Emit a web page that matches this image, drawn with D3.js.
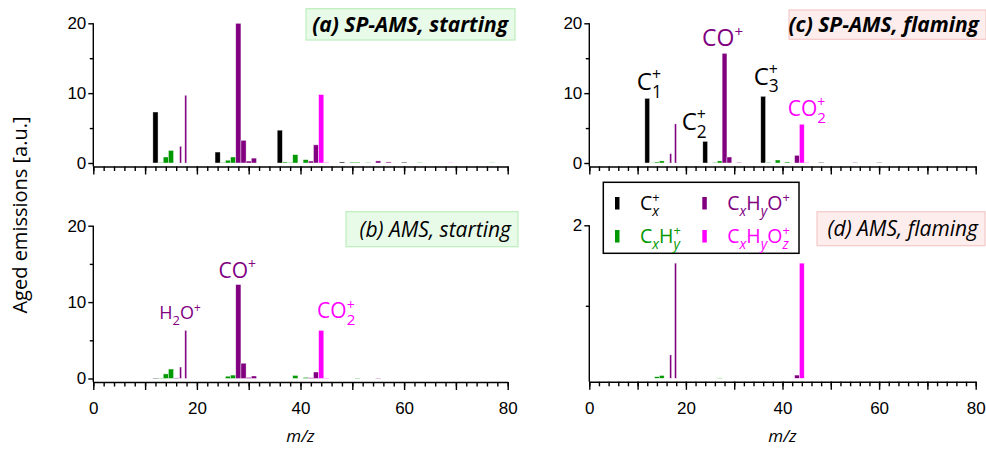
<!DOCTYPE html>
<html>
<head>
<meta charset="utf-8">
<script src="https://cdn.jsdelivr.net/npm/d3@7"></script>
<style>
  body { margin: 0; background: #fff; }
  svg { font-family: "Open Sans", "DejaVu Sans", sans-serif; }
  .axis path, .axis line { stroke: #000; stroke-width: 1.4; }
  .axis text { font-size: 17px; fill: #000; }
</style>
</head>
<body>
<script>
// m/z of every ion bar and the ion family it belongs to
var mz = [12, 13, 14, 15, 16, 17, 18, 24, 25, 26, 27, 28, 29, 30, 31, 36, 37, 38, 39, 41, 42, 43, 44, 45, 48, 50, 51, 53, 55, 57, 60, 63, 69, 77];
var family = ["Cx", "CxHy", "CxHy", "CxHy", "CxHyO", "CxHyO", "CxHyO", "Cx", "CxHy", "CxHy", "CxHy", "CxHyO", "CxHyO", "CxHyO", "CxHyO",
  "Cx", "CxHy", "CxHy", "CxHy", "CxHy", "CxHyO", "CxHyO", "CxHyOz", "CxHyOz", "Cx", "CxHy", "CxHy", "CxHy", "CxHyO", "CxHyO", "Cx", "CxHy", "CxHyOz", "CxHy"];
// water ions, drawn as thin lines
var waterMz = [17, 18];

// aged emissions per panel, same order as mz
var spStart = [7.3, 0.08, 0.86, 1.8, 0, 2.4, 9.7, 1.57, 0.08, 0.4, 0.86, 20.0, 3.25, 0.28, 0.7, 4.7, 0.15, 0.08, 1.2, 0.48, 0.28, 2.6, 9.8, 0.1, 0.15, 0.12, 0.12, 0.08, 0.3, 0.15, 0.12, 0.08, 0.05, 0.06];
var amsStart = [0.06, 0.05, 0.6, 1.24, 0.08, 1.5, 6.3, 0, 0, 0.3, 0.45, 12.3, 2.0, 0.15, 0.33, 0, 0, 0, 0.4, 0.15, 0.1, 0.85, 6.3, 0.05, 0, 0, 0.05, 0, 0.05, 0, 0, 0, 0, 0];
var spFlame = [9.26, 0.05, 0.15, 0.3, 0, 1.33, 5.6, 3.1, 0, 0.1, 0.3, 15.7, 0.86, 0, 0.1, 9.55, 0.1, 0, 0.43, 0.15, 0, 1.1, 5.55, 0.08, 0.1, 0, 0, 0, 0.08, 0, 0.08, 0, 0, 0];
var amsFlame = [0, 0, 0.12, 0.135, 0, 0.39, 1.53, 0, 0, 0, 0.105, 0, 0, 0, 0, 0, 0, 0, 0, 0, 0, 0.14, 1.53, 0, 0, 0, 0, 0, 0, 0, 0, 0, 0, 0];

var panelTitles = ["(a) SP-AMS, starting", "(b) AMS, starting", "(c) SP-AMS, flaming", "(d) AMS, flaming"];
var xTickLabels = [0, 20, 40, 60, 80];

// peak labels
var annoPanel = [1, 1, 1, 2, 2, 2, 2, 2];
var annoMz = [18, 28, 44, 12, 24, 28, 36, 44];
var annoText = ["H_{2}O^{+}", "CO^{+}", "CO_{2}^{+}", "C_{1}^{+}", "C_{2}^{+}", "CO^{+}", "C_{3}^{+}", "CO_{2}^{+}"];

var legendFamilies = ["Cx", "CxHy", "CxHyO", "CxHyOz"];
var legendText = ["C_{x}^{+}", "C_{x}H_{y}^{+}", "C_{x}H_{y}O^{+}", "C_{x}H_{y}O_{z}^{+}"];

var color = d3.scaleOrdinal()
  .domain(["Cx", "CxHy", "CxHyO", "CxHyOz"])
  .range(["#000000", "#009900", "#800080", "#ff00ff"]);

var svg = d3.select("body").append("svg").attr("width", 986).attr("height", 449);

var xRanges = [[93.3, 507.7], [589.3, 975.7]];
var panels = [
  { vals: spStart, col: 0, row: 0, yDom: [0, 20], yRange: [163, 23.3], major: [0, 10, 20], minor: [5, 15], box: [306, 8.7, 209, 31.3], bold: true, warm: false },
  { vals: amsStart, col: 0, row: 1, yDom: [0, 20], yRange: [378.5, 225.7], major: [0, 10, 20], minor: [5, 15], box: [346, 211.7, 172, 35], bold: false, warm: false },
  { vals: spFlame, col: 1, row: 0, yDom: [0, 20], yRange: [163, 23.3], major: [0, 10, 20], minor: [5, 15], box: [789, 10, 197, 29.3], bold: true, warm: true },
  { vals: amsFlame, col: 1, row: 1, yDom: [0.1, 2], yRange: [378.3, 225.3], major: [2], minor: [1], box: [817, 211.7, 168, 34], bold: false, warm: true }
];

// label nudges: [dx from bar centre, gap above bar top, font size]
var annoNudge = [[-6.5, 11, 18], [-1, 7, 21], [15, 12, 21], [2, 8, 24], [-11, 11, 24], [-2, 7, 23], [3, 11, 24], [5, 8, 21]];

function parseRich(s) {
  var out = [], re = /([_^])\{([^}]*)\}|([^_^]+)/g, m;
  while ((m = re.exec(s))) {
    if (m[3]) out.push({ t: m[3], k: "n" });
    else out.push({ t: m[2], k: m[1] === "_" ? "sub" : "sup" });
  }
  return out;
}

function richText(g, s, x, y, size, fill, anchor) {
  var t = g.append("text").attr("x", x).attr("y", y).attr("font-size", size).attr("fill", fill);
  var shift = 0, lastSub = null;
  parseRich(s).forEach(function (p) {
    var target = p.k === "sub" ? size * 0.3 : p.k === "sup" ? -size * 0.42 : 0;
    var ts = t.append("tspan").attr("dy", target - shift).text(p.t);
    shift = target;
    if (p.k === "sub") ts.attr("font-size", size * 0.72);
    if (p.k === "sup") ts.attr("font-size", size * 0.66);
    if (p.k === "sub" && /[a-z]/.test(p.t)) ts.attr("font-style", "italic");
    if (p.k === "sup" && lastSub) ts.attr("dx", -lastSub.node().getComputedTextLength());
    lastSub = p.k === "sub" ? ts : null;
  });
  var w = t.node().getBBox().width;
  if (anchor === "middle") t.attr("x", x - w / 2);
  if (anchor === "end") t.attr("x", x - w);
  return t;
}

panels.forEach(function (p, pi) {
  var x = d3.scaleLinear().domain([0, 80]).range(xRanges[p.col]);
  var y = d3.scaleLinear().domain(p.yDom).range(p.yRange);
  var base = p.yDom[0];
  var axisY = y(base) + 3.5;
  var g = svg.append("g");

  // title box
  g.append("rect")
    .attr("x", p.box[0]).attr("y", p.box[1]).attr("width", p.box[2]).attr("height", p.box[3])
    .attr("fill", p.warm ? "#fdeded" : "#e8fbe8")
    .attr("stroke", p.warm ? "#f6c8c8" : "#bdeebd").attr("stroke-width", 1.2);
  g.append("text")
    .attr("x", p.box[0] + p.box[2] - 7).attr("y", p.box[1] + p.box[3] / 2 + 7.5)
    .attr("text-anchor", "end")
    .attr("font-size", 21)
    .attr("font-style", "italic")
    .attr("font-weight", p.bold ? "bold" : "normal")
    .text(panelTitles[pi]);

  var unit = x(1) - x(0);
  var rows = mz.map(function (m, i) { return { m: m, v: p.vals[i], f: family[i] }; })
    .filter(function (d) { return d.v > 0; });

  g.selectAll(".bar").data(rows).enter().append("rect")
    .attr("class", "bar")
    .attr("x", function (d) { return waterMz.indexOf(d.m) >= 0 ? x(d.m - 0.15) - 1 : x(d.m - 0.5); })
    .attr("width", function (d) { return waterMz.indexOf(d.m) >= 0 ? 2 : unit; })
    .attr("y", function (d) { return y(d.v); })
    .attr("height", function (d) { return y(base) - y(d.v); })
    .attr("fill", function (d) { return color(d.f); })
    .attr("stroke", "#fff").attr("stroke-width", 0.6).attr("stroke-opacity", 0.7);

  // x axis, numbers only on the bottom row
  var xa = g.append("g").attr("class", "axis").attr("transform", "translate(0," + axisY + ")");
  xa.call(d3.axisBottom(x).tickValues(d3.range(0, 81, 10)).tickSize(8).tickSizeOuter(0)
    .tickFormat(function (d) { return p.row === 1 && xTickLabels.indexOf(d) >= 0 ? d : ""; }));
  xa.selectAll("text").attr("dy", "1.25em");
  var xm = g.append("g").attr("class", "axis").attr("transform", "translate(0," + axisY + ")");
  xm.call(d3.axisBottom(x).tickValues(d3.range(0, 81, 2)).tickSize(4.5).tickFormat(""));
  xm.select(".domain").remove();

  // y axis
  var ya = g.append("g").attr("class", "axis").attr("transform", "translate(" + x(0) + ",0)");
  ya.call(d3.axisLeft(y).tickValues(p.major).tickSize(5).tickPadding(2).tickFormat(d3.format("d")));
  ya.select(".domain").remove();
  ya.append("line").attr("x1", 0).attr("x2", 0).attr("y1", y(p.yDom[1])).attr("y2", axisY);
  var ym = g.append("g").attr("class", "axis").attr("transform", "translate(" + x(0) + ",0)");
  ym.call(d3.axisLeft(y).tickValues(p.minor).tickSize(3.5).tickFormat(""));
  ym.select(".domain").remove();

  // peak labels
  annoPanel.forEach(function (ap, ai) {
    if (ap !== pi) return;
    var i = mz.indexOf(annoMz[ai]);
    var n = annoNudge[ai];
    richText(g, annoText[ai], x(annoMz[ai]) + n[0], y(p.vals[i]) - n[1], n[2], color(family[i]), "middle");
  });

  if (p.row === 1) {
    svg.append("text")
      .attr("x", (xRanges[p.col][0] + xRanges[p.col][1]) / 2).attr("y", 442)
      .attr("text-anchor", "middle").attr("font-size", 17).attr("font-style", "italic")
      .text("m/z");
  }
});

svg.append("text")
  .attr("transform", "translate(27,215) rotate(-90)")
  .attr("text-anchor", "middle").attr("font-size", 20)
  .text("Aged emissions [a.u.]");

// legend
var lg = svg.append("g");
lg.append("rect").attr("x", 603.3).attr("y", 182.3).attr("width", 195.7).attr("height", 71)
  .attr("fill", "#fff").attr("stroke", "#000").attr("stroke-width", 1.5);
legendFamilies.forEach(function (f, i) {
  var cx = i < 2 ? 615 : 702.3, ty = i % 2 === 0 ? 210 : 243;
  lg.append("rect").attr("x", cx).attr("y", ty - 13).attr("width", 4.5).attr("height", 12.5).attr("fill", color(f));
  richText(lg, legendText[i], cx + 25, ty, 19.5, color(f), "start");
});
</script>
</body>
</html>
